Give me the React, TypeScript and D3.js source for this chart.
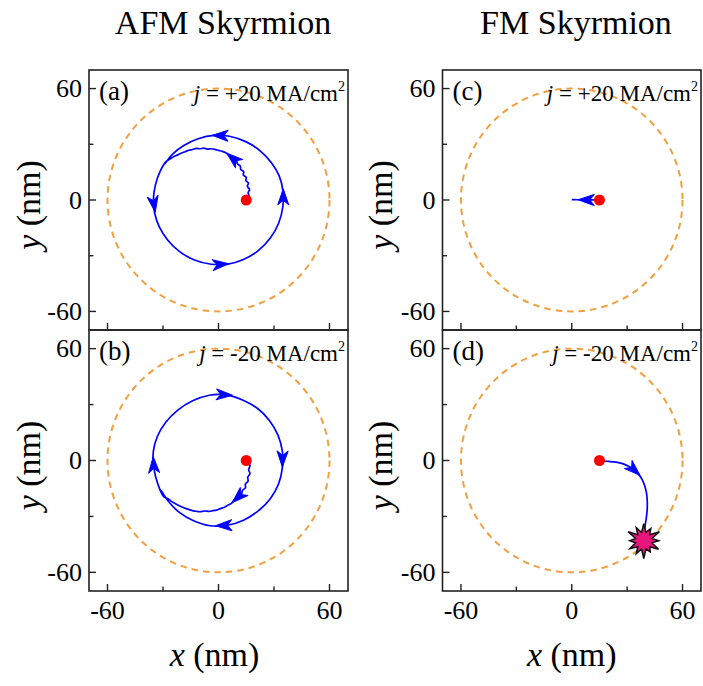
import React from "react";
import * as d3 from "d3";

type Pt = [number, number];

const titles = ["AFM Skyrmion", "FM Skyrmion"];
const panelLabels = ["(a)", "(b)", "(c)", "(d)"];
const currents = ["+20", "-20", "+20", "-20"];
const majorTicks = [-60, 0, 60];
const minorTicks = [-30, 30];
const boundaryRadius = 60; // nm, dashed disk edge
const startPoint: Pt = [15, 0];
const burstPoint: Pt = [39, -43];

// (a) AFM, j = +20 : wiggly drift up-left, then counter-clockwise orbit
const trajA: Pt[] = [
  [15, 0], [16.5, 2], [16, 4], [16.8, 5.5], [15.6, 7.5], [16.2, 9], [14.8, 10.5],
  [15, 12.2], [13.4, 13.5], [13.6, 15.2], [12, 16.5], [11.8, 18.2], [10.3, 19.4],
  [9.8, 21], [8.2, 22], [7.2, 23.5], [5.5, 24.3], [4, 25.4], [2, 26.2], [0, 26.7],
  [-2, 27.3], [-4, 27.6], [-6, 27.4], [-8, 27.9], [-10, 27.6], [-12, 27.8],
  [-14, 27.2], [-16, 26.8], [-18, 26], [-20, 25.3], [-22, 24.3], [-24, 23.4],
  [-26, 22.2], [-28.5, 20.5], [-31.5, 15.5], [-34, 8.5], [-35.2, 0.5], [-34.5, -7],
  [-32, -14.5], [-27.5, -21.5], [-21, -27.8], [-13, -32.3], [-4, -34.6], [5, -34.5],
  [13.5, -32], [21.5, -27.3], [28, -20.5], [32.5, -12.5], [34.8, -3.5], [34.8, 5],
  [32.8, 13], [28.5, 20.2], [22.5, 26.5], [15, 31.3], [6.5, 34.2], [-2.5, 34.8],
  [-11, 33], [-18.5, 29.5], [-24.5, 25], [-29, 19.5],
];

// (b) AFM, j = -20 : wiggly drift down-left, then clockwise orbit
const trajB: Pt[] = [
  [15, 0], [17, -2.5], [16.3, -5], [17, -7], [15.8, -9], [16, -11], [14.5, -12.8],
  [14.6, -14.6], [13, -16], [12.5, -17.8], [11, -19], [10, -20.5], [8.2, -21.5],
  [7, -23], [5, -24], [3, -25.2], [1, -25.8], [-1, -26.6], [-3, -26.9], [-5, -27.3],
  [-7.5, -27.1], [-10, -27.5], [-12.5, -27.2], [-15, -26.6], [-17.5, -25.8],
  [-20, -24.8], [-22.5, -23.6], [-25, -22.2], [-27.3, -20.5], [-29.5, -19.5],
  [-33, -12], [-35, -3.5], [-35.2, 5], [-33, 13], [-28.5, 20.5], [-22, 27], [-14, 32],
  [-5, 35], [4, 35.2], [13, 32.5], [21, 28], [27.5, 21.5], [32.2, 13.5], [34.5, 5],
  [34.5, -4], [32.5, -12.5], [28, -20.5], [21.5, -27], [13.5, -32], [4.5, -34.8],
  [-4.5, -35], [-13.5, -32.3], [-21, -28], [-27, -22], [-31, -16],
];

// (c) FM, j = +20 : short move toward the centre
const trajC: Pt[] = [[15, 0], [7, 0.1], [0, 0.2]];

// (d) FM, j = -20 : drifts out and is annihilated at the edge
const trajD: Pt[] = [
  [15, 0], [17, -0.3], [20, -0.5], [24, -0.9], [27.5, -1.7], [30.5, -3], [33.5, -4.8],
  [36, -7.2], [38, -10], [39.5, -13.5], [40.5, -17.5], [40.9, -22], [40.8, -27],
  [40.2, -32], [39.5, -36.5], [39, -40.5],
];

// arrow heads: [tipX, tipY, backX, backY] in nm
const arrowsA = [
  [4.5, 25.2, 8.5, 21.8], [-3.5, 34.8, 2, 34.7], [-34.2, -6.5, -35.1, -1],
  [5.5, -34.3, 0, -34.8], [35, 6, 35, 0.5],
];
const arrowsB = [
  [7.5, 35, 2, 35.3], [34.5, -3.5, 34.6, 2], [-1.5, -35, 4, -34.8],
  [-35.3, 2, -35, -3.5], [7.5, -22.5, 10.2, -20],
];
const arrowsC = [[3.5, 0.1, 9, 0.05]];
const arrowsD = [[37, -8, 33.5, -4.8]];

const W = 703;
const H = 686;
const FONT = "'Liberation Serif', 'Times New Roman', serif";
const BLUE = "#0000ff";
const ORANGE = "#f0a040";

const cols: Pt[] = [[89, 348], [442.5, 701]];
const rows: Pt[] = [[70, 330], [330, 591]];

const panels = [
  { col: 0, row: 0, traj: trajA, arrows: arrowsA, burst: false },
  { col: 0, row: 1, traj: trajB, arrows: arrowsB, burst: false },
  { col: 1, row: 0, traj: trajC, arrows: arrowsC, burst: false },
  { col: 1, row: 1, traj: trajD, arrows: arrowsD, burst: true },
];

function burstPath(cx: number, cy: number) {
  const n = 12;
  const outer = [17, 14, 18, 15, 17, 13, 18, 15, 16, 14, 18, 15];
  const pts: string[] = [];
  for (let i = 0; i < n * 2; i++) {
    const a = (i / (n * 2)) * Math.PI * 2 - Math.PI / 2;
    const r = i % 2 === 0 ? outer[i / 2] : 8.5;
    pts.push(`${cx + r * Math.cos(a)},${cy + r * Math.sin(a)}`);
  }
  return "M" + pts.join("L") + "Z";
}

const Panel = ({ p, i }: { p: any; i: number }) => {
  const [x0, x1] = cols[p.col];
  const [y0, y1] = rows[p.row];
  const x = d3.scaleLinear().domain([-70, 70]).range([x0, x1]);
  const y = d3.scaleLinear().domain([-70, 70]).range([y1, y0]);
  const line = d3
    .line<Pt>()
    .x((d) => x(d[0]))
    .y((d) => y(d[1]))
    .curve(d3.curveCatmullRom.alpha(0.5));

  const rx = x(boundaryRadius) - x(0);
  const ry = y(0) - y(boundaryRadius);

  return (
    <g>
      <ellipse
        cx={x(0)}
        cy={y(0)}
        rx={rx}
        ry={ry}
        fill="none"
        stroke={ORANGE}
        strokeWidth={2}
        strokeDasharray="6.5 5"
      />
      <path d={line(p.traj) || ""} fill="none" stroke={BLUE} strokeWidth={1.7} />
      {p.arrows.map((a: number[], k: number) => {
        const tx = x(a[0]);
        const ty = y(a[1]);
        const ang = (Math.atan2(ty - y(a[3]), tx - x(a[2])) * 180) / Math.PI;
        return (
          <path
            key={k}
            d="M0,0 L-16,-5.5 L-11.5,0 L-16,5.5 Z"
            fill={BLUE}
            stroke={BLUE}
            strokeWidth={1}
            strokeLinejoin="round"
            transform={`translate(${tx},${ty}) rotate(${ang})`}
          />
        );
      })}
      <circle cx={x(startPoint[0])} cy={y(startPoint[1])} r={5.5} fill="#ff0000" />
      {p.burst && (
        <path
          d={burstPath(x(burstPoint[0]), y(burstPoint[1]))}
          fill="#e8157d"
          stroke="#111"
          strokeWidth={1.5}
          strokeLinejoin="miter"
        />
      )}

      {/* frame */}
      <rect x={x0} y={y0} width={x1 - x0} height={y1 - y0} fill="none" stroke="#222" strokeWidth={1.6} />

      {/* ticks */}
      {majorTicks.concat(minorTicks).map((v) => {
        const len = majorTicks.includes(v) ? 7 : 4.5;
        return (
          <g key={v} stroke="#222" strokeWidth={1.4}>
            <line x1={x0} x2={x0 + len} y1={y(v)} y2={y(v)} />
            <line x1={x(v)} x2={x(v)} y1={y1} y2={y1 - len} />
          </g>
        );
      })}
      {majorTicks.map((v) => (
        <text
          key={"y" + v}
          x={x0 - 7}
          y={y(v) + 8.5}
          textAnchor="end"
          fontSize={26}
          fontFamily={FONT}
        >
          {v}
        </text>
      ))}
      {p.row === 1 &&
        majorTicks.map((v) => (
          <text
            key={"x" + v}
            x={x(v)}
            y={y1 + 28}
            textAnchor="middle"
            fontSize={26}
            fontFamily={FONT}
          >
            {v}
          </text>
        ))}

      {/* y title */}
      <text
        transform={`translate(${p.col === 0 ? 40 : 392},${(y0 + y1) / 2 + 5}) rotate(-90)`}
        textAnchor="middle"
        fontSize={34}
        fontFamily={FONT}
      >
        <tspan fontStyle="italic">y</tspan> (nm)
      </text>

      {/* panel labels */}
      <text x={x0 + 10} y={y0 + 30} fontSize={27} fontFamily={FONT}>
        {panelLabels[i]}
      </text>
      <text x={x1 - 3} y={y0 + 31} textAnchor="end" fontSize={23} fontFamily={FONT}>
        <tspan fontStyle="italic">j</tspan> = {currents[i]} MA/cm
        <tspan fontSize={14} dy={-10}>
          2
        </tspan>
      </text>
    </g>
  );
};

export default function App() {
  return (
    <svg
      width={W}
      height={H}
      style={{ position: "absolute", left: 0, top: 0, background: "#fff" }}
    >
      <rect width={W} height={H} fill="#fff" />
      {panels.map((p, i) => (
        <Panel key={i} p={p} i={i} />
      ))}
      {titles.map((t, c) => (
        <text
          key={t}
          x={c === 0 ? 223 : 576}
          y={34}
          textAnchor="middle"
          fontSize={34}
          fontFamily={FONT}
        >
          {t}
        </text>
      ))}
      {cols.map((c, k) => (
        <text
          key={k}
          x={(c[0] + c[1]) / 2 + (k === 0 ? -4 : 0)}
          y={666}
          textAnchor="middle"
          fontSize={34}
          fontFamily={FONT}
        >
          <tspan fontStyle="italic">x</tspan> (nm)
        </text>
      ))}
    </svg>
  );
}
